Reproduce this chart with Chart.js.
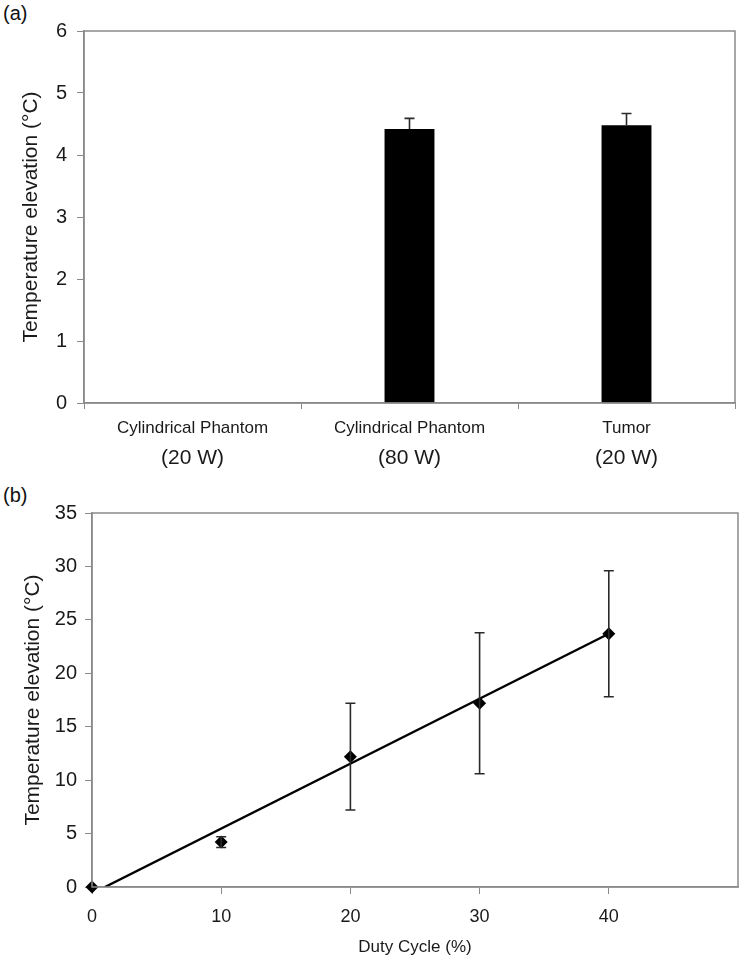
<!DOCTYPE html>
<html>
<head>
<meta charset="utf-8">
<script src="https://cdn.jsdelivr.net/npm/chart.js@4/dist/chart.umd.min.js"></script>
<style>
  html, body { margin: 0; padding: 0; background: #fff; }
  body { width: 750px; height: 965px; position: relative; overflow: hidden; font-family: 'Liberation Sans', Arial, sans-serif; }
  .panel { position: absolute; left: 0; width: 750px; }
  .tag { position: absolute; left: 3px; font-size: 20px; color: #111; }
</style>
</head>
<body>
<div class="tag" style="top:2px">(a)</div>
<div class="panel" style="top:0; height:480px;"><canvas id="barChart" width="750" height="480"></canvas></div>
<div class="tag" style="top:484px">(b)</div>
<div class="panel" style="top:480px; height:485px;"><canvas id="lineChart" width="750" height="485"></canvas></div>
<script>
// (a) données des barres
const barCategories = ['Cylindrical Phantom', 'Cylindrical Phantom', 'Tumor'];
const barPowers = ['(20 W)', '(80 W)', '(20 W)'];
const barValues = [0, 4.42, 4.48];
const barErrors = [0, 0.17, 0.19];
const barYTicks = [0, 1, 2, 3, 4, 5, 6];

// (b) données duty cycle
const dutyCycle = [0, 10, 20, 30, 40];
const tempRise = [0, 4.2, 12.2, 17.2, 23.7];
const tempErr = [0, 0.5, 5.0, 6.6, 5.9];
const trendX = [1, 40];
const trendY = [0, 23.7];

const FONT = "'Liberation Sans', Arial, sans-serif";
const axisGray = '#8a8a8a';
const textColor = '#1a1a1a';

// cadre gris autour de la zone de tracé
const frameBox = {
    id: 'frameBox',
    afterDatasetsDraw(chart) {
        const { ctx, chartArea: a } = chart;
        ctx.save();
        ctx.strokeStyle = axisGray;
        ctx.lineWidth = 1.5;
        ctx.strokeRect(a.left, a.top, a.right - a.left, a.bottom - a.top);
        ctx.restore();
    }
};

// barres d'erreur (plus seulement pour les barres, +/- pour les points)
const errorBars = {
    id: 'errorBars',
    afterDatasetsDraw(chart) {
        const { ctx } = chart;
        const yScale = chart.scales.y;
        ctx.save();
        ctx.strokeStyle = '#2a2a2a';
        ctx.lineWidth = 1.6;
        chart.data.datasets.forEach((ds, di) => {
            if (!ds.errors) return;
            const meta = chart.getDatasetMeta(di);
            meta.data.forEach((el, i) => {
                const err = ds.errors[i];
                if (!err) return;
                const v = ds.data[i];
                const val = typeof v === 'object' ? v.y : v;
                const x = el.x;
                const yTop = yScale.getPixelForValue(val + err);
                const yBot = ds.plusOnly ? yScale.getPixelForValue(val) : yScale.getPixelForValue(val - err);
                ctx.beginPath();
                ctx.moveTo(x, yTop);
                ctx.lineTo(x, yBot);
                ctx.moveTo(x - 5, yTop);
                ctx.lineTo(x + 5, yTop);
                if (!ds.plusOnly) {
                    ctx.moveTo(x - 5, yBot);
                    ctx.lineTo(x + 5, yBot);
                }
                ctx.stroke();
            });
        });
        ctx.restore();
    }
};

// deuxième ligne des étiquettes (puissance), plus grande
const powerLabels = {
    id: 'powerLabels',
    afterDraw(chart) {
        const { ctx } = chart;
        const xs = chart.scales.x;
        ctx.save();
        ctx.font = '21px ' + FONT;
        ctx.fillStyle = textColor;
        ctx.textAlign = 'center';
        ctx.textBaseline = 'middle';
        barPowers.forEach((p, i) => {
            ctx.fillText(p, xs.getPixelForTick(i), 458);
        });
        ctx.restore();
    }
};

new Chart(document.getElementById('barChart'), {
    type: 'bar',
    data: {
        labels: barCategories,
        datasets: [{
            data: barValues,
            errors: barErrors,
            plusOnly: true,
            backgroundColor: '#000',
            borderWidth: 0,
            barPercentage: 0.23,
            categoryPercentage: 1
        }]
    },
    options: {
        responsive: false,
        animation: false,
        layout: { padding: { top: 31, right: 15, left: 0, bottom: 0 } },
        plugins: { legend: { display: false }, tooltip: { enabled: false } },
        scales: {
            x: {
                afterFit: (s) => { s.height = 77; },
                grid: { display: true, drawOnChartArea: false, tickLength: 6, color: axisGray, offset: true },
                border: { display: true, color: axisGray, width: 1.5 },
                ticks: { color: textColor, font: { family: FONT, size: 17 }, padding: 9, maxRotation: 0 }
            },
            y: {
                min: 0,
                max: 6,
                afterFit: (s) => { s.width = 84; },
                afterBuildTicks: (s) => { s.ticks = barYTicks.map(v => ({ value: v })); },
                grid: { display: true, drawOnChartArea: false, tickLength: 7, color: axisGray },
                border: { display: true, color: axisGray, width: 1.5 },
                ticks: { color: textColor, font: { family: FONT, size: 20 }, padding: 10 },
                title: { display: true, text: 'Temperature elevation (°C)', color: textColor, font: { family: FONT, size: 21 }, padding: { top: 19, bottom: 0 } }
            }
        }
    },
    plugins: [frameBox, errorBars, powerLabels]
});

new Chart(document.getElementById('lineChart'), {
    type: 'scatter',
    data: {
        datasets: [
            {
                type: 'line',
                data: trendX.map((x, i) => ({ x, y: trendY[i] })),
                borderColor: '#000',
                borderWidth: 2.4,
                pointRadius: 0,
                fill: false
            },
            {
                data: dutyCycle.map((x, i) => ({ x, y: tempRise[i] })),
                errors: tempErr,
                plusOnly: false,
                pointStyle: 'rectRot',
                pointRadius: 6.5,
                backgroundColor: '#000',
                borderColor: '#000',
                borderWidth: 0,
                showLine: false,
                clip: false
            }
        ]
    },
    options: {
        responsive: false,
        animation: false,
        layout: { padding: { top: 33, right: 10, left: 0, bottom: 0 } },
        plugins: { legend: { display: false }, tooltip: { enabled: false } },
        scales: {
            x: {
                type: 'linear',
                min: 0,
                max: 50,
                afterFit: (s) => { s.height = 78; },
                grid: {
                    display: true, drawOnChartArea: false, tickLength: 7, color: axisGray,
                    tickColor: (c) => c.tick && c.tick.value === 50 ? 'rgba(0,0,0,0)' : axisGray
                },
                border: { display: true, color: axisGray, width: 1.5 },
                ticks: {
                    stepSize: 10, color: textColor, font: { family: FONT, size: 18 }, padding: 12,
                    callback: (v) => v === 50 ? '' : v
                },
                title: { display: true, text: 'Duty Cycle (%)', color: textColor, font: { family: FONT, size: 17 }, padding: { top: 0, bottom: 7 } }
            },
            y: {
                min: 0,
                max: 35,
                afterFit: (s) => { s.width = 92; },
                grid: { display: true, drawOnChartArea: false, tickLength: 7, color: axisGray },
                border: { display: true, color: axisGray, width: 1.5 },
                ticks: { stepSize: 5, color: textColor, font: { family: FONT, size: 20 }, padding: 8 },
                title: { display: true, text: 'Temperature elevation (°C)', color: textColor, font: { family: FONT, size: 21 }, padding: { top: 21, bottom: 0 } }
            }
        }
    },
    plugins: [frameBox, errorBars]
});
</script>
</body>
</html>
